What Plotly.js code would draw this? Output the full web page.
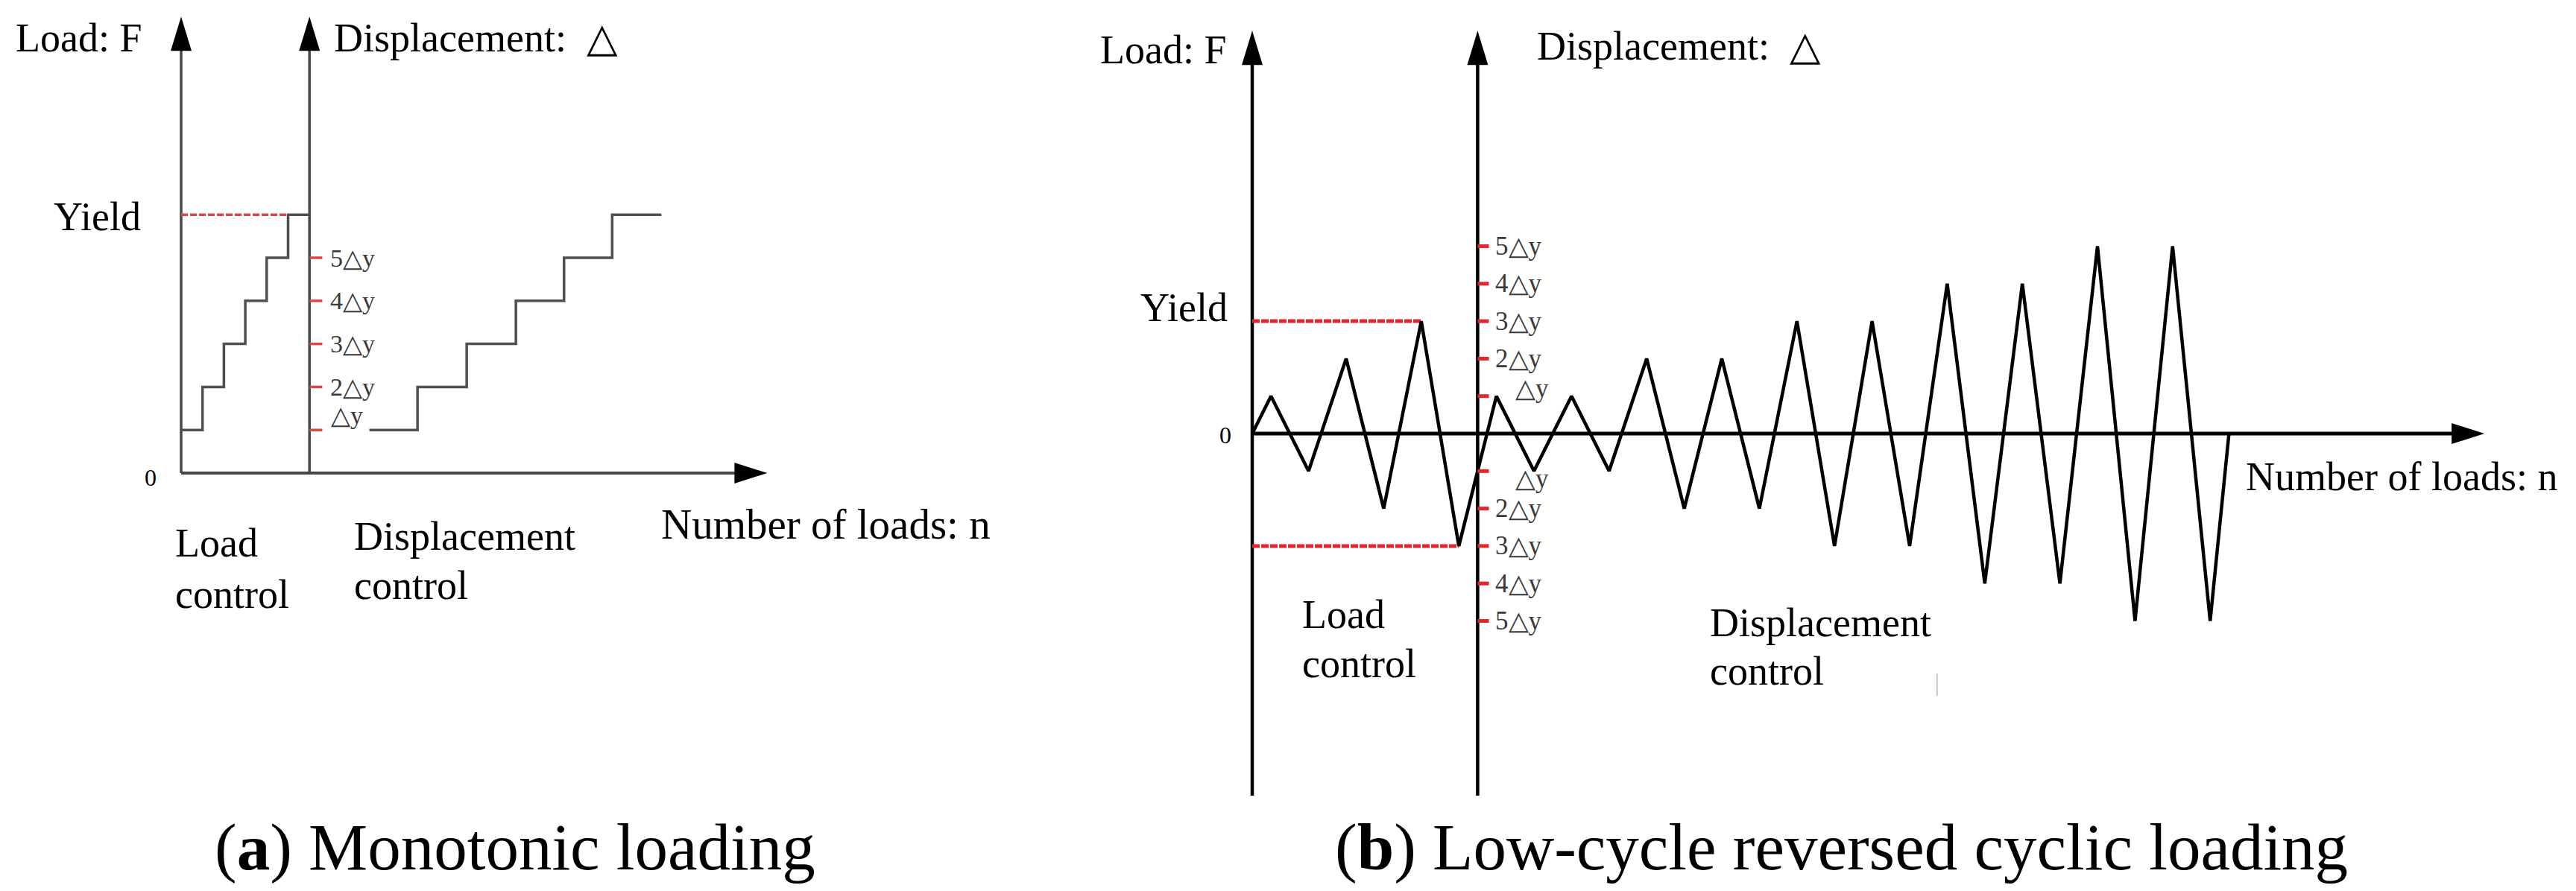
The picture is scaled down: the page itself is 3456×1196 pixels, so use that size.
<!DOCTYPE html>
<html><head><meta charset="utf-8">
<script src="https://cdn.plot.ly/plotly-3.0.1.min.js"></script>
<style>html,body{margin:0;padding:0;background:#fff;}#chart{width:3456px;height:1196px;}</style>
</head><body><div id="chart"></div>
<script>
// ---------- Panel (a): monotonic loading ----------
const loadStepN   = [0, 1, 2, 3, 4, 5, 6];
const loadStepF   = [1, 2, 3, 4, 5, 6, 6];
const dispStepN   = [8.8, 11.05, 13.35, 15.65, 17.9, 20.15, 22.45];
const dispStepD   = [1, 2, 3, 4, 5, 6, 6];
const yieldLevelA = 6;
const yieldEndA   = 5;
const switchNA    = 6;
const axisTopA    = 10.6;
const axisEndA    = 27.4;
const tickLevelsA = [1, 2, 3, 4, 5];
const tickLabelsA = ['△y', '2△y', '3△y', '4△y', '5△y'];

// ---------- Panel (b): low-cycle reversed cyclic loading ----------
const cycN = [0, 0.5, 1.5, 2.5, 3.5, 4.5, 5.5, 6.5, 7.5, 8.5, 9.5, 10.5, 11.5, 12.5, 13.5,
              14.5, 15.5, 16.5, 17.5, 18.5, 19.5, 20.5, 21.5, 22.5, 23.5, 24.5, 25.5, 26];
const cycV = [0, 1, -1, 2, -2, 3, -3, 1, -1, 1, -1, 2, -2, 2, -2,
              3, -3, 3, -3, 4, -4, 4, -4, 5, -5, 5, -5, 0];
const yieldB       = 3;
const yieldEndUpB  = 4.5;
const yieldEndLowB = 5.5;
const switchNB     = 6;
const axisTopB     = 10.75;
const axisBottomB  = -9.66;
const axisEndB     = 32.8;
const tickLevelsB  = [5, 4, 3, 2, 1, -1, -2, -3, -4, -5];
const tickLabelsB  = ['5△y', '4△y', '3△y', '2△y', '△y', '△y', '2△y', '3△y', '4△y', '5△y'];

const W = 3456, H = 1196;
const SERIF = 'Liberation Serif, Times New Roman, serif';
const GREY_A = '#474747';
const RED = '#e3262a';

function tickSegs(x0, len, levels) {
  const xs = [], ys = [];
  levels.forEach(l => { xs.push(x0, x0 + len, null); ys.push(l, l, null); });
  return {x: xs, y: ys};
}
const tA = tickSegs(switchNA, 0.6, tickLevelsA);
const tB = tickSegs(switchNB, 0.3, tickLevelsB);

const base = {type: 'scatter', mode: 'lines', hoverinfo: 'skip', showlegend: false};
const traces = [
  // panel (a)
  Object.assign({}, base, {x: [0, 0], y: [0, axisTopA - 0.5], line: {color: GREY_A, width: 3.5}}),
  Object.assign({}, base, {x: [switchNA, switchNA], y: [0, axisTopA - 0.5], line: {color: GREY_A, width: 3.5}}),
  Object.assign({}, base, {x: [0, axisEndA - 1], y: [0, 0], line: {color: GREY_A, width: 4}}),
  Object.assign({}, base, {x: [0, yieldEndA], y: [yieldLevelA, yieldLevelA], line: {color: '#e04545', width: 3.5, dash: '9px,3px'}}),
  Object.assign({}, base, {x: loadStepN, y: loadStepF, line: {color: '#505050', width: 3.5, shape: 'hv'}}),
  Object.assign({}, base, {x: dispStepN, y: dispStepD, line: {color: '#505050', width: 3.5, shape: 'hv'}}),
  Object.assign({}, base, {x: tA.x, y: tA.y, line: {color: '#e04545', width: 3.5}}),
  // panel (b)
  Object.assign({}, base, {xaxis: 'x2', yaxis: 'y2', x: [0, 0], y: [axisBottomB, axisTopB - 0.5], line: {color: '#000', width: 4.5}}),
  Object.assign({}, base, {xaxis: 'x2', yaxis: 'y2', x: [switchNB, switchNB], y: [axisBottomB, axisTopB - 0.5], line: {color: '#000', width: 4.5}}),
  Object.assign({}, base, {xaxis: 'x2', yaxis: 'y2', x: [0, axisEndB - 0.5], y: [0, 0], line: {color: '#000', width: 5}}),
  Object.assign({}, base, {xaxis: 'x2', yaxis: 'y2', x: [0, yieldEndUpB], y: [yieldB, yieldB], line: {color: RED, width: 5, dash: '10px,2px'}}),
  Object.assign({}, base, {xaxis: 'x2', yaxis: 'y2', x: [0, yieldEndLowB], y: [-yieldB, -yieldB], line: {color: RED, width: 5, dash: '10px,2px'}}),
  Object.assign({}, base, {xaxis: 'x2', yaxis: 'y2', x: cycN, y: cycV, line: {color: '#000', width: 4.5}}),
  Object.assign({}, base, {xaxis: 'x2', yaxis: 'y2', x: tB.x, y: tB.y, line: {color: RED, width: 5}}),
  Object.assign({}, base, {xaxis: 'x2', yaxis: 'y2', x: [18.23, 18.23], y: [-6.4, -7.0], line: {color: '#c8c8c8', width: 2}})
];

function P(px, py) { return {x: px / W, y: 1 - py / H}; }
function txt(text, px, py, size, xanchor, extra) {
  const p = P(px, py);
  return Object.assign({xref: 'paper', yref: 'paper', x: p.x, y: p.y, text: text, showarrow: false,
    xanchor: xanchor || 'left', yanchor: 'middle', font: {family: SERIF, size: size, color: '#000'}}, extra || {});
}

const ann = [
  // panel (a)
  txt('Load: F', 19, 51, 54),
  txt('Displacement:  △', 446, 51, 54),
  txt('Yield', 191, 291, 54, 'right'),
  txt('0', 202, 641, 32, 'center'),
  txt('Load', 233, 729, 54),
  txt('control', 233, 798, 54),
  txt('Displacement', 473, 720, 54),
  txt('control', 473, 786, 54),
  txt('Number of loads: n', 885, 703, 57),
  txt('(<b>a</b>) Monotonic loading', 286, 1137, 89),
  // panel (b)
  txt('Load: F', 1474, 67, 54),
  txt('Displacement:  △', 2060, 62, 54),
  txt('Yield', 1649, 413, 54, 'right'),
  txt('0', 1644, 584, 32, 'center'),
  txt('Load', 1745, 825, 54),
  txt('control', 1745, 891, 54),
  txt('Displacement', 2292, 836, 54),
  txt('control', 2292, 901, 54),
  txt('Number of loads: n', 3011, 640, 54),
  txt('(<b>b</b>) Low-cycle reversed cyclic loading', 1789, 1137, 89)
];
// tick labels in data coordinates
tickLevelsA.forEach((l, i) => {
  const lowest = (l === 1);
  ann.push({xref: 'x', yref: 'y', x: lowest ? 6.93 : 6.9, y: lowest ? 1.34 : l, text: tickLabelsA[i],
    showarrow: false, xanchor: 'left', yanchor: 'middle', font: {family: SERIF, size: 34, color: '#3a3a3a'}});
});
tickLevelsB.forEach((l, i) => {
  const unit = Math.abs(l) === 1;
  ann.push({xref: 'x2', yref: 'y2', x: unit ? 6.96 : 6.43, y: unit ? l * 1.2 : l, text: tickLabelsB[i],
    showarrow: false, xanchor: 'left', yanchor: 'middle', font: {family: SERIF, size: 35, color: '#3a3a3a'}});
});

function head(xref, yref, x, y, dir, color) {
  const path = dir === 'up' ? 'M0,0L-14,-46L14,-46Z' : 'M0,0L-44,14L-44,-14Z';
  return {type: 'path', xref: xref, yref: yref, xsizemode: 'pixel', ysizemode: 'pixel',
    xanchor: x, yanchor: y, path: path, fillcolor: color, line: {width: 0}};
}
const shapes = [
  head('x', 'y', 0, axisTopA, 'up', '#000'),
  head('x', 'y', switchNA, axisTopA, 'up', '#000'),
  head('x', 'y', axisEndA, 0, 'right', '#000'),
  head('x2', 'y2', 0, axisTopB, 'up', '#000'),
  head('x2', 'y2', switchNB, axisTopB, 'up', '#000'),
  head('x2', 'y2', axisEndB, 0, 'right', '#000')
];

const hidden = {visible: false, fixedrange: true, showgrid: false, zeroline: false};
const layout = {
  width: W, height: H, margin: {l: 0, r: 0, t: 0, b: 0, pad: 0},
  paper_bgcolor: '#fff', plot_bgcolor: 'rgba(0,0,0,0)', showlegend: false,
  xaxis: Object.assign({}, hidden, {range: [-243 / 28.7, (W - 243) / 28.7], domain: [0, 1]}),
  yaxis: Object.assign({}, hidden, {range: [(635 - H) / 57.8, 635 / 57.8], domain: [0, 1]}),
  xaxis2: Object.assign({}, hidden, {range: [-1680 / 50.4, (W - 1680) / 50.4], overlaying: 'x', anchor: 'y2'}),
  yaxis2: Object.assign({}, hidden, {range: [(582 - H) / 50.3, 582 / 50.3], overlaying: 'y', anchor: 'x2'}),
  annotations: ann,
  shapes: shapes
};
Plotly.newPlot('chart', traces, layout, {staticPlot: true, displayModeBar: false});
</script></body></html>
